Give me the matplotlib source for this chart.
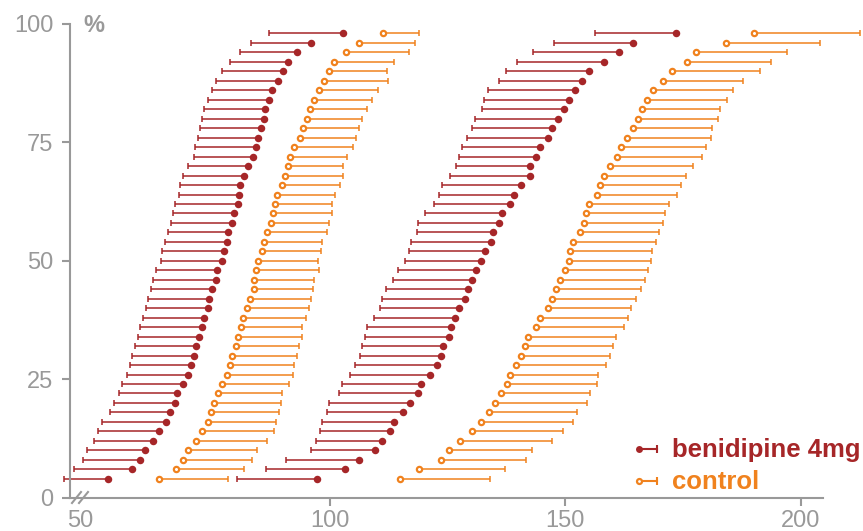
import matplotlib
matplotlib.use("Agg")
import matplotlib.pyplot as plt
from matplotlib.lines import Line2D
import numpy as np

plt.rcParams["font.family"] = ["Liberation Sans", "DejaVu Sans"]

# cumulative percentage of patients (shared by all four series)
pct = [4, 6, 8, 10, 12, 14, 16, 18, 20, 22, 24, 26, 28, 30, 32, 34,
       36, 38, 40, 42, 44, 46, 48, 50, 52, 54, 56, 58, 60, 62, 64, 66,
       68, 70, 72, 74, 76, 78, 80, 82, 84, 86, 88, 90, 92, 94, 96, 98]

# diastolic blood pressure (mmHg)
beni_dbp = [52.9, 57.9, 59.6, 60.7, 62.4, 63.8, 65.1, 66.1, 67.0, 67.6, 68.8, 69.8,
            70.6, 71.1, 71.6, 72.2, 72.8, 73.3, 74.0, 74.3, 75.0, 75.7, 76.1, 77.1,
            77.6, 78.1, 78.4, 79.1, 79.6, 80.4, 80.6, 81.0, 81.7, 82.5, 83.7, 84.2,
            84.7, 85.4, 86.1, 86.3, 87.1, 87.8, 89.0, 90.1, 91.1, 93.1, 96.0, 102.8]
beni_dbp_low = [43.5, 45.6, 47.6, 48.4, 49.8, 50.7, 51.7, 53.4, 54.2, 55.3, 55.9, 56.9,
                57.5, 58.0, 58.6, 59.2, 59.7, 60.4, 60.9, 61.3, 61.9, 62.4, 63.1, 64.1,
                64.4, 64.9, 65.6, 66.3, 66.6, 67.2, 68.0, 68.2, 68.8, 69.9, 71.1, 71.3,
                71.9, 72.5, 72.8, 73.3, 74.1, 75.0, 75.8, 77.0, 78.8, 81.0, 83.2, 87.0]
ctrl_dbp = [63.8, 67.4, 68.9, 69.9, 71.5, 72.9, 74.0, 74.8, 75.3, 76.2, 77.1, 78.2,
            78.7, 79.2, 80.0, 80.4, 81.1, 81.6, 82.4, 83.1, 83.8, 83.9, 84.2, 84.8,
            85.6, 85.9, 86.6, 87.5, 87.9, 88.4, 88.7, 89.8, 90.5, 91.1, 91.6, 92.4,
            93.6, 94.3, 95.1, 95.8, 96.7, 97.7, 98.7, 99.7, 100.8, 103.4, 106.2, 111.3]
ctrl_dbp_high = [78.4, 81.7, 83.4, 84.6, 86.6, 88.1, 88.6, 89.2, 89.5, 89.9, 91.3, 92.1,
                 92.4, 92.9, 93.4, 94.0, 94.1, 95.0, 95.6, 96.0, 96.3, 96.7, 97.7, 97.5,
                 98.0, 98.4, 99.3, 99.9, 100.4, 100.4, 101.1, 102.2, 102.8, 102.8, 103.7, 104.8,
                 105.5, 106.2, 106.8, 107.9, 109.0, 110.3, 112.4, 112.2, 113.5, 116.7, 118.1, 119.0]

# systolic blood pressure (mmHg)
beni_sbp = [97.2, 103.3, 106.2, 109.5, 111.0, 112.7, 113.6, 115.6, 117.0, 118.8, 119.3, 121.2,
            122.8, 123.5, 124.1, 125.3, 125.8, 126.5, 127.5, 128.6, 129.4, 130.2, 131.1, 132.1,
            132.9, 134.3, 134.7, 135.8, 136.5, 138.2, 139.1, 140.6, 142.4, 142.5, 143.7, 144.7,
            146.3, 147.1, 148.4, 149.7, 150.7, 152.0, 153.5, 155.0, 158.1, 161.3, 164.3, 173.5]
beni_sbp_low = [80.2, 86.5, 90.6, 95.9, 97.0, 97.8, 98.4, 99.3, 99.9, 101.9, 102.6, 104.3,
                105.4, 106.4, 106.9, 107.5, 107.9, 109.3, 110.7, 111.1, 111.9, 113.4, 114.4, 115.9,
                116.7, 117.2, 118.4, 118.7, 120.2, 122.2, 123.1, 123.9, 125.5, 126.8, 127.3, 128.1,
                129.2, 130.1, 130.8, 132.2, 132.7, 133.6, 135.9, 137.3, 139.8, 143.1, 147.6, 156.3]
ctrl_sbp = [114.9, 118.9, 123.5, 125.3, 127.6, 130.1, 132.0, 133.8, 135.0, 136.3, 137.7, 138.2,
            139.6, 140.5, 141.4, 142.0, 143.8, 144.7, 146.2, 147.1, 148.1, 148.9, 150.0, 150.7,
            151.0, 151.7, 153.0, 153.9, 154.3, 155.1, 156.7, 157.3, 158.3, 159.5, 160.9, 161.7,
            163.0, 164.4, 165.5, 166.2, 167.4, 168.5, 170.8, 172.7, 175.8, 177.8, 184.0, 190.1]
ctrl_sbp_high = [134.0, 137.1, 141.6, 142.8, 147.1, 149.5, 151.7, 152.5, 154.6, 155.3, 156.7, 157.0,
                 158.7, 159.5, 160.1, 160.7, 162.4, 163.2, 163.9, 164.9, 166.0, 167.0, 167.5, 168.2,
                 168.4, 169.2, 169.9, 170.8, 171.1, 172.0, 173.8, 174.5, 175.7, 177.0, 178.9, 179.8,
                 181.0, 181.2, 182.4, 182.9, 184.4, 185.6, 187.8, 191.3, 193.6, 197.1, 204.0, 212.5]

x_ticks = [100, 150, 200]
y_ticks = [0, 25, 50, 75, 100]

RED = "#a62628"
ORANGE = "#f0821e"
GREY = "#999999"

W, H = 863, 531
fig = plt.figure(figsize=(W / 100, H / 100), dpi=100)
ax = fig.add_axes([70 / W, 1 - 497.7 / H, 753 / W, (497.7 - 24) / H])
ax.set_xlim(44.8, 204.7)
ax.set_ylim(0, 100)


def draw_series(center, end, color, filled):
    ax.hlines(pct, center, end, colors=color, lw=1.1, clip_on=False, zorder=2)
    ax.plot(end, pct, ls="none", marker="|", ms=4.2, mew=1.1, color=color,
            clip_on=False, zorder=2)
    if filled:
        ax.plot(center, pct, ls="none", marker="o", ms=5.4, mfc=color, mec=color,
                mew=0, clip_on=False, zorder=3)
    else:
        ax.plot(center, pct, ls="none", marker="o", ms=3.8, mfc="white", mec=color,
                mew=1.6, clip_on=False, zorder=3)


draw_series(beni_dbp, beni_dbp_low, RED, True)
draw_series(ctrl_dbp, ctrl_dbp_high, ORANGE, False)
draw_series(beni_sbp, beni_sbp_low, RED, True)
draw_series(ctrl_sbp, ctrl_sbp_high, ORANGE, False)

# axes styling
for side in ("top", "right"):
    ax.spines[side].set_visible(False)
for side in ("left", "bottom"):
    ax.spines[side].set_color(GREY)
    ax.spines[side].set_linewidth(1.5)

ax.set_yticks(y_ticks, labels=[str(v) for v in y_ticks])
# the axis is broken at its left end; "50" marks the start of the broken range
ax.set_xticks([46.9] + x_ticks, labels=["50"] + [str(v) for v in x_ticks])
ax.xaxis.get_major_ticks()[0].tick1line.set_visible(False)
ax.tick_params(axis="both", colors=GREY, labelcolor=GREY, labelsize=17,
               width=1.5, length=6)
ax.tick_params(axis="y", pad=6)
ax.tick_params(axis="x", pad=2.5)

fig.text(83 / W, 1 - 32 / H, "%", color=GREY, fontsize=17, fontweight="bold",
         va="baseline", ha="left")

# break marks on the x axis
for x0 in (72, 79):
    fig.add_artist(Line2D([x0 / W, (x0 + 9) / W], [1 - 503 / H, 1 - 492 / H],
                          color=GREY, lw=1.5))

# legend
for yy, color, filled, label in ((449, RED, True, "benidipine 4mg"),
                                 (481, ORANGE, False, "control")):
    fy = 1 - yy / H
    fig.add_artist(Line2D([639 / W, 657 / W], [fy, fy], color=color, lw=1.5))
    fig.add_artist(Line2D([657 / W], [fy], ls="none", marker="|", ms=6, mew=1.5,
                          color=color))
    if filled:
        fig.add_artist(Line2D([639 / W], [fy], ls="none", marker="o", ms=5.0,
                              mfc=color, mec=color, mew=0))
    else:
        fig.add_artist(Line2D([639 / W], [fy], ls="none", marker="o", ms=3.6,
                              mfc="white", mec=color, mew=1.6))
    fig.text(672 / W, 1 - (yy + 8) / H, label, color=color, fontsize=18.5,
             fontweight="bold", va="baseline", ha="left")

fig.savefig("out.png", dpi=100)
